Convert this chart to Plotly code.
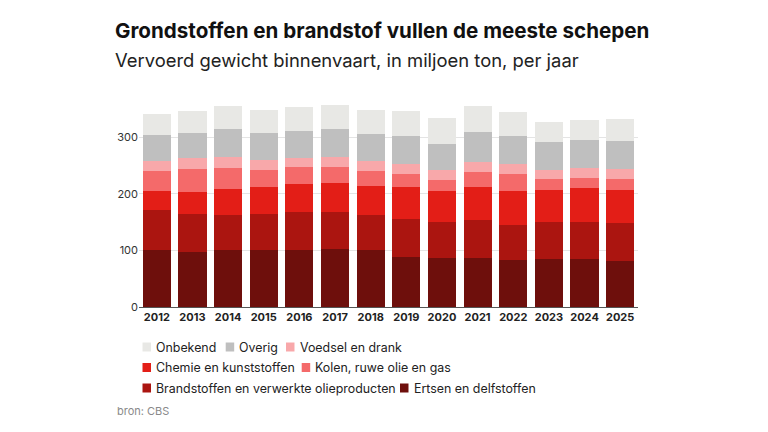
"""Vervoerd gewicht binnenvaart per goederengroep, gestapelde staven."""

import plotly.graph_objects as go

years = [str(y) for y in range(2012, 2026)]

ertsen = [100, 98, 100, 100, 100, 102, 101, 88.5, 87, 87, 83, 85.5, 85.5, 82]
brandstoffen = [71, 66.5, 62.5, 64.5, 68, 66, 62, 67.5, 63, 67.5, 62.5, 64.5, 65.5, 66.5]
chemie = [34, 39.5, 46.5, 47, 50, 51.5, 51, 56.5, 55.5, 58.5, 59, 56, 59.5, 57.5]
kolen = [35, 40, 37, 31, 29, 28.5, 27, 23, 19, 26, 30.5, 20, 17.5, 20]
voedsel = [19, 20, 19, 18, 17, 17.5, 18, 17.5, 18, 18, 17.5, 17, 17.5, 18]
overig = [45, 44.5, 50.5, 48, 48, 49, 47, 49, 46, 52.5, 49.5, 48, 49, 50]
onbekend = [38, 38.5, 40, 39.5, 41, 43, 41.5, 45, 45.5, 46.5, 42, 36, 36.5, 39]

names = [
    "Ertsen en delfstoffen",
    "Brandstoffen en verwerkte olieproducten",
    "Chemie en kunststoffen",
    "Kolen, ruwe olie en gas",
    "Voedsel en drank",
    "Overig",
    "Onbekend",
]
values = [ertsen, brandstoffen, chemie, kolen, voedsel, overig, onbekend]
colors = ["#6e0f0c", "#ab1510", "#e31e17", "#f46a6a", "#f8a8aa", "#bfbfbf", "#e8e8e5"]

# legenda in drie rijen: (serie-index, x-pixel van het blokje, y-pixel van de rij)
legend_items = [
    (6, 142.5, 347), (5, 225.7, 347), (4, 286, 347),
    (2, 142.5, 367.5), (3, 301.7, 367.5),
    (1, 142.5, 388), (0, 400, 388),
]

FONT = "Inter"
W, H = 768, 432
L, R, T, B = 139, 130, 100, 125


def px_x(x):
    return (x - L) / (W - L - R)


def px_y(y):
    return (H - B - y) / (H - T - B)


fig = go.Figure()
for name, vals, color in zip(names, values, colors):
    fig.add_trace(go.Bar(
        x=years, y=vals, name=name, showlegend=False,
        marker=dict(color=color, line=dict(width=0)),
        hoverinfo="x+y+name",
    ))

shapes = []
annotations = [
    dict(text="<b>Grondstoffen en brandstof vullen de meeste schepen</b>",
         x=px_x(113), y=px_y(30), font=dict(family=FONT, size=20.6, color="#111")),
    dict(text="Vervoerd gewicht binnenvaart, in miljoen ton, per jaar",
         x=px_x(113), y=px_y(60), font=dict(family=FONT, size=18.4, color="#222")),
    dict(text="bron: CBS",
         x=px_x(115), y=px_y(411), font=dict(family=FONT, size=11, color="#8a8a8a")),
]
for idx, x, y in legend_items:
    shapes.append(dict(
        type="rect", xref="paper", yref="paper",
        xsizemode="pixel", ysizemode="pixel",
        xanchor=px_x(x), yanchor=px_y(y),
        x0=0, x1=8.5, y0=-4.5, y1=4.5,
        fillcolor=colors[idx], line=dict(width=0),
    ))
    annotations.append(dict(
        text=names[idx], x=px_x(x + 11.5), y=px_y(y),
        font=dict(family=FONT, size=12.4, color="#222"),
    ))
for a in annotations:
    a.update(xref="paper", yref="paper", xanchor="left", yanchor="middle", showarrow=False)

fig.update_layout(
    width=W, height=H,
    barmode="stack", bargap=0.21,
    plot_bgcolor="white", paper_bgcolor="white",
    margin=dict(l=L, r=R, t=T, b=B, autoexpand=False),
    font=dict(family=FONT, color="#333"),
    xaxis=dict(
        showline=True, linecolor="#555", linewidth=1,
        tickfont=dict(family=FONT, size=11, color="#222", weight="bold"),
        ticks="", fixedrange=True,
    ),
    yaxis=dict(
        range=[0, 366], tickvals=[0, 100, 200, 300],
        showgrid=True, gridcolor="#e4e4e4", gridwidth=1,
        zeroline=False, ticks="", fixedrange=True,
        tickfont=dict(family=FONT, size=11, color="#333"),
    ),
    shapes=shapes,
    annotations=annotations,
)

# geen standaardmarge van de pagina, zodat de figuur precies in het venster valt
fig.write_html(
    "out.html",
    config={"displayModeBar": False},
    post_script="document.body.style.margin = '0';",
)
